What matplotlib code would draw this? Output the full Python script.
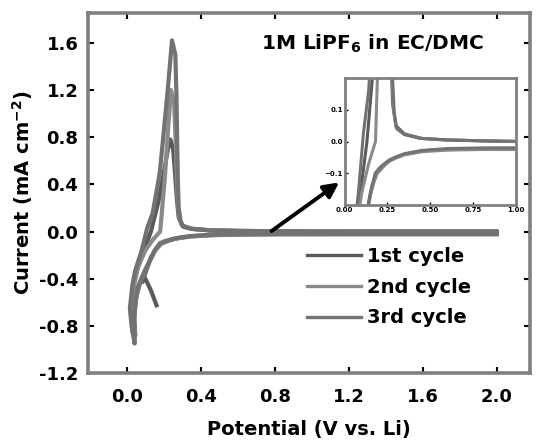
import matplotlib
matplotlib.use("Agg")
import matplotlib.pyplot as plt

plt.rcParams['font.family'] = ['DejaVu Sans']
plt.rcParams['font.weight'] = 'bold'
plt.rcParams['mathtext.default'] = 'bf'

# ---------------- data ----------------
# 3rd cycle
E3 = [2.0, 1.6, 1.2, 0.8, 0.6, 0.45, 0.35, 0.3, 0.26, 0.222, 0.2, 0.178, 0.15, 0.124, 0.1, 0.081, 0.06, 0.045, 0.038, 0.042,
      0.025, 0.016, 0.03, 0.045, 0.08, 0.11, 0.14, 0.178, 0.205, 0.222, 0.244, 0.262, 0.268, 0.272, 0.276, 0.28, 0.29, 0.305,
      0.35, 0.44, 0.6, 0.8, 1.2, 1.6, 2.0]
I3 = [-0.02, -0.02, -0.02, -0.02, -0.022, -0.028, -0.038, -0.048, -0.058, -0.074, -0.085, -0.1, -0.16, -0.243, -0.32, -0.387, -0.47, -0.6, -0.75, -0.95,
      -0.8, -0.65, -0.45, -0.33, -0.16, 0.03, 0.16, 0.5, 0.94, 1.22, 1.62, 1.5, 1.15, 0.75, 0.4, 0.2, 0.09, 0.04,
      0.022, 0.01, 0.005, 0.002, 0.0, 0.0, 0.0]
# 2nd cycle
E2 = [2.0, 1.6, 1.2, 0.8, 0.6, 0.45, 0.35, 0.3, 0.26, 0.225, 0.2, 0.18, 0.15, 0.125, 0.1, 0.08, 0.06, 0.046, 0.04, 0.043,
      0.03, 0.025, 0.04, 0.06, 0.1, 0.14, 0.18, 0.205, 0.222, 0.238, 0.255, 0.264, 0.27, 0.276, 0.285, 0.3,
      0.35, 0.45, 0.6, 1.0, 1.5, 2.0]
I2 = [-0.025, -0.025, -0.025, -0.025, -0.027, -0.032, -0.042, -0.052, -0.062, -0.078, -0.09, -0.11, -0.17, -0.25, -0.33, -0.4, -0.48, -0.6, -0.74, -0.9,
      -0.85, -0.65, -0.45, -0.3, -0.16, -0.07, 0.0, 0.45, 0.85, 1.2, 1.1, 0.75, 0.45, 0.22, 0.1, 0.045,
      0.022, 0.01, 0.005, 0.0, 0.0, 0.0]
# 1st cycle
E1 = [0.16, 0.13, 0.1, 0.07, 0.05, 0.04, 0.045,
      0.03, 0.03, 0.05, 0.09, 0.13, 0.17, 0.2, 0.222, 0.235, 0.25, 0.26, 0.27, 0.28, 0.3, 0.35, 0.45, 0.6, 1.0, 2.0,
      2.0, 1.2, 0.8, 0.5, 0.35, 0.28, 0.24, 0.215, 0.19, 0.16, 0.13, 0.105, 0.085]
I1 = [-0.625, -0.5, -0.4, -0.44, -0.56, -0.72, -0.88,
      -0.7, -0.5, -0.35, -0.17, 0.0, 0.25, 0.5, 0.7, 0.78, 0.7, 0.5, 0.28, 0.12, 0.05, 0.024, 0.01, 0.005, 0.0, 0.0,
      -0.02, -0.02, -0.022, -0.027, -0.04, -0.055, -0.07, -0.085, -0.1, -0.14, -0.22, -0.33, -0.42]

labels = ['1st cycle', '2nd cycle', '3rd cycle']
colors = ['#5a5a5a', '#8a8a8a', '#727272']
series = [(E1, I1), (E2, I2), (E3, I3)]

xticks = [0.0, 0.4, 0.8, 1.2, 1.6, 2.0]
yticks = [-1.2, -0.8, -0.4, 0.0, 0.4, 0.8, 1.2, 1.6]

# ---------------- figure ----------------
fig = plt.figure(figsize=(5.37, 4.41), dpi=100)
ax = fig.add_axes([0.164, 0.154, 0.823, 0.816])

for (e, i), lab, c in zip(series, labels, colors):
    ax.plot(e, i, color=c, lw=3.0, label=lab, solid_joinstyle='round')

ax.set_xlim(-0.21, 2.18)
ax.set_ylim(-1.2, 1.85)
ax.set_xticks(xticks)
ax.set_xticklabels([f'{v:.1f}' for v in xticks])
ax.set_yticks(yticks)
ax.set_yticklabels([f'{v:.1f}' for v in yticks])
ax.tick_params(direction='in', length=4, width=1.5, top=True, right=True,
               labelsize=13, colors='black')
ax.tick_params(axis='x', pad=11)
ax.tick_params(axis='y', pad=7)
for lab in ax.get_xticklabels() + ax.get_yticklabels():
    lab.set_fontweight('bold')
for s in ax.spines.values():
    s.set_linewidth(2.6)
    s.set_color('#808080')

ax.set_xlabel('Potential (V vs. Li)', fontsize=14, fontweight='bold', labelpad=10)
ax.set_ylabel('Current (mA cm$^{-2}$)', fontsize=14, fontweight='bold', labelpad=3)

ax.text(0.897, 0.915, '1M LiPF$_6$ in EC/DMC', transform=ax.transAxes,
        ha='right', va='center', fontsize=14.5, fontweight='bold')

leg = ax.legend(loc='upper left', bbox_to_anchor=(307 / 537, 1 - 247 / 441),
                bbox_transform=fig.transFigure, frameon=False, fontsize=14,
                handlelength=2.8, handletextpad=0.3, labelspacing=0.6,
                borderpad=0, borderaxespad=0)
for t in leg.get_texts():
    t.set_fontweight('bold')
for h in leg.get_lines():
    h.set_linewidth(2.4)

ax.annotate('', xy=(1.16, 0.43), xytext=(0.77, -0.01),
            arrowprops=dict(arrowstyle='-|>,head_length=0.9,head_width=0.45',
                            color='black', lw=2.8))

# ---------------- inset ----------------
axi = fig.add_axes([0.642, 0.535, 0.318, 0.288])
for (e, i), c in zip(series, colors):
    axi.plot(e, i, color=c, lw=2.2)
axi.set_xlim(0.0, 1.0)
axi.set_ylim(-0.2, 0.2)
axi.set_xticks([0.0, 0.25, 0.5, 0.75, 1.0])
axi.set_yticks([-0.1, 0.0, 0.1])
axi.tick_params(direction='in', length=2, width=1, labelsize=5, pad=1.5)
for s in axi.spines.values():
    s.set_linewidth(2.0)
    s.set_color('#808080')

fig.savefig('out.png', dpi=100)
